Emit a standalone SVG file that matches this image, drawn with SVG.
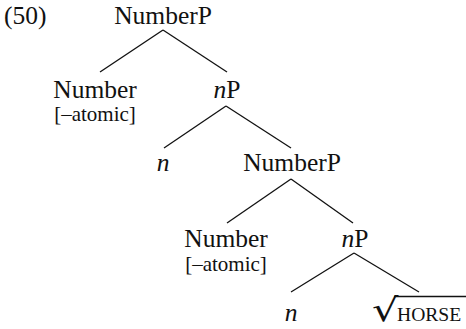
<svg xmlns="http://www.w3.org/2000/svg" width="466" height="329" viewBox="0 0 466 329">
<style>
text{font-family:"Liberation Serif","Times New Roman",serif;fill:#111;}
.lab{font-size:25.5px;text-anchor:middle;}
.feat{font-size:21px;text-anchor:middle;}
.it{font-style:italic;}
.edge{stroke:#111;stroke-width:1.3;fill:none;}
</style>
<rect width="466" height="329" fill="#fff"/>
<text x="4" y="24" style="font-size:25.5px">(50)</text>
<g id="connectors">
<line class="edge" x1="163" y1="30" x2="100" y2="72"/>
<line class="edge" x1="163" y1="30" x2="227" y2="72"/>
<line class="edge" x1="226" y1="106" x2="164" y2="148"/>
<line class="edge" x1="226" y1="106" x2="291" y2="148"/>
<line class="edge" x1="291" y1="179" x2="227" y2="223"/>
<line class="edge" x1="291" y1="179" x2="353" y2="223"/>
<line class="edge" x1="354" y1="253" x2="291" y2="292"/>
<line class="edge" x1="354" y1="253" x2="419" y2="292"/>
</g>
<g id="numberP1"><text class="lab" x="163" y="24">NumberP</text></g>
<g id="number1"><text class="lab" x="95" y="98">Number</text><text class="feat" x="95" y="121">[–atomic]</text></g>
<g id="nP1"><text class="lab" x="227" y="98"><tspan class="it">n</tspan>P</text></g>
<g id="n1"><text class="lab it" x="163" y="171">n</text></g>
<g id="numberP2"><text class="lab" x="292" y="171">NumberP</text></g>
<g id="number2"><text class="lab" x="226" y="247">Number</text><text class="feat" x="226" y="271">[–atomic]</text></g>
<g id="nP2"><text class="lab" x="355" y="247"><tspan class="it">n</tspan>P</text></g>
<g id="n2"><text class="lab it" x="291" y="321">n</text></g>
<g id="root">
<text transform="translate(372,320.5) scale(1.3,1)" x="0" y="0" style="font-family:'DejaVu Serif',serif;font-size:32px">√</text>
<line class="edge" x1="394" y1="296.5" x2="466" y2="296.5"/>
<text x="397" y="321" style="font-size:19.6px">HORSE</text>
</g>
</svg>
